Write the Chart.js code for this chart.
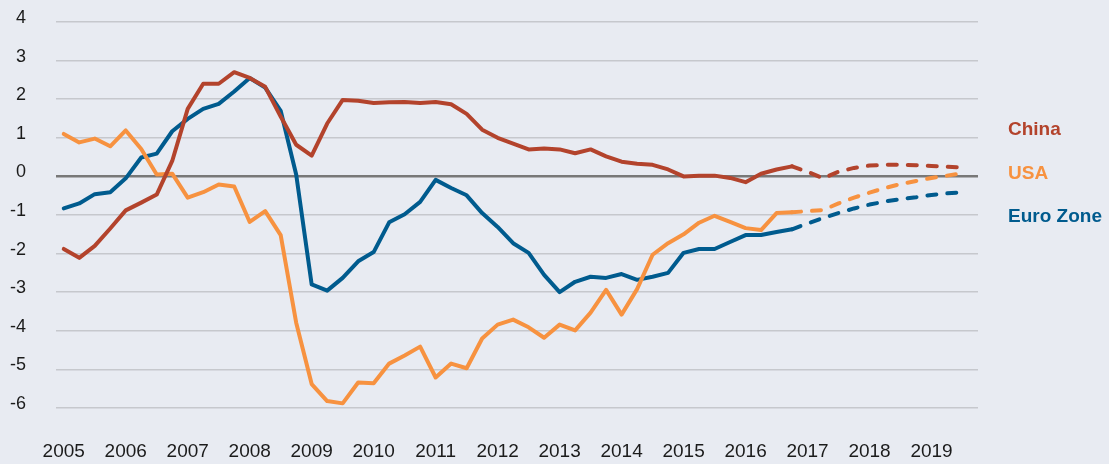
<!DOCTYPE html>
<html>
<head>
<meta charset="utf-8">
<script src="https://cdn.jsdelivr.net/npm/chart.js@4"></script>
<style>
  html, body { margin: 0; padding: 0; background: #e8ebf2; }
  .wrap { width: 1109px; height: 464px; position: relative; }
</style>
</head>
<body>
<div class="wrap"><canvas class="chart"></canvas></div>
<script>
// year tick labels, one per 4 quarters starting 2005 Q1
const years = ['2005','2006','2007','2008','2009','2010','2011','2012','2013','2014','2015','2016','2017','2018','2019'];

// quarterly values, 2005 Q1 .. 2019 Q3 (from index 47 on = forecast)
const china = [-1.88, -2.11, -1.8, -1.35, -0.88, -0.68, -0.47, 0.4, 1.75, 2.4, 2.4, 2.7,
  2.55, 2.32, 1.55, 0.82, 0.54, 1.37, 1.98, 1.96, 1.9, 1.92, 1.93, 1.9,
  1.93, 1.87, 1.62, 1.21, 1.0, 0.85, 0.7, 0.72, 0.7, 0.6, 0.7, 0.52,
  0.38, 0.33, 0.3, 0.18, 0.0, 0.02, 0.02, -0.04, -0.15, 0.07, 0.18, 0.26,
  0.12, -0.05, 0.12, 0.22, 0.28, 0.3, 0.3, 0.29, 0.27, 0.25, 0.23];

const usa = [1.1, 0.88, 0.98, 0.78, 1.19, 0.71, 0.05, 0.07, -0.55, -0.41, -0.21, -0.26,
  -1.18, -0.9, -1.52, -3.79, -5.38, -5.82, -5.88, -5.34, -5.36, -4.85, -4.64, -4.41,
  -5.21, -4.85, -4.97, -4.2, -3.84, -3.71, -3.91, -4.18, -3.84, -3.99, -3.53, -2.94,
  -3.58, -2.92, -2.03, -1.73, -1.5, -1.2, -1.02, -1.18, -1.34, -1.39, -0.95, -0.93,
  -0.9, -0.87, -0.7, -0.55, -0.42, -0.3, -0.2, -0.12, -0.04, 0.02, 0.08];

const euro = [-0.83, -0.7, -0.46, -0.41, -0.05, 0.49, 0.59, 1.17, 1.49, 1.75, 1.88, 2.2,
  2.55, 2.3, 1.7, 0.05, -2.8, -2.96, -2.63, -2.2, -1.96, -1.19, -0.98, -0.66,
  -0.09, -0.3, -0.49, -0.95, -1.31, -1.73, -1.98, -2.55, -3.0, -2.73, -2.6, -2.63,
  -2.53, -2.68, -2.6, -2.5, -1.98, -1.88, -1.88, -1.7, -1.52, -1.52, -1.44, -1.37,
  -1.22, -1.08, -0.95, -0.83, -0.73, -0.65, -0.59, -0.54, -0.48, -0.44, -0.41];

const forecastFrom = 47;

const seriesNames = ['China', 'USA', 'Euro Zone'];
const seriesColors = ['#b3432c', '#f79240', '#005b8e'];

function toPoints(vals) {
  return vals.map((v, i) => ({ x: i, y: v }));
}

function makeSet(name, vals, color) {
  return {
    label: name,
    data: toPoints(vals),
    borderColor: color,
    backgroundColor: color,
    borderWidth: 4,
    pointRadius: 0,
    tension: 0,
    borderJoinStyle: 'round',
    borderCapStyle: 'round',
    segment: {
      borderDash: ctx => ctx.p0DataIndex >= forecastFrom ? [9, 11] : undefined
    }
  };
}

// series names written at the right, like the original
const sideLabels = {
  id: 'sideLabels',
  afterDraw(chart) {
    const c = chart.ctx;
    const ys = [130, 174, 217];
    c.save();
    c.font = 'bold 19px "Liberation Sans", Arial, sans-serif';
    c.textBaseline = 'middle';
    c.textAlign = 'left';
    seriesNames.forEach((n, k) => {
      c.fillStyle = seriesColors[k];
      c.fillText(n, 1008, ys[k]);
    });
    c.restore();
  }
};

Chart.defaults.font.family = '"Liberation Sans", Arial, sans-serif';
Chart.defaults.color = '#1b1b1b';

const config = {
  type: 'line',
  data: {
    datasets: [
      makeSet(seriesNames[0], china, seriesColors[0]),
      makeSet(seriesNames[1], usa, seriesColors[1]),
      makeSet(seriesNames[2], euro, seriesColors[2])
    ]
  },
  options: {
    responsive: true,
    maintainAspectRatio: false,
    animation: false,
    devicePixelRatio: 1,
    layout: { padding: { top: 22, right: 131, left: 0, bottom: 0 } },
    plugins: {
      legend: { display: false },
      tooltip: { enabled: false }
    },
    scales: {
      x: {
        type: 'linear',
        min: -0.5,
        max: 59,
        afterBuildTicks: scale => {
          scale.ticks = years.map((y, k) => ({ value: k * 4 }));
        },
        afterFit: scale => { scale.height = 56; },
        grid: { display: false, drawTicks: false },
        border: { display: false },
        ticks: {
          padding: 32,
          maxRotation: 0,
          autoSkip: false,
          font: { size: 19 },
          callback: v => years[Math.round(v / 4)]
        }
      },
      y: {
        min: -6,
        max: 4,
        afterFit: scale => { scale.width = 56; scale.paddingTop = 0; scale.paddingBottom = 0; },
        border: { display: false },
        grid: {
          drawTicks: false,
          color: ctx => ctx.tick && ctx.tick.value === 0 ? '#787878' : '#c6c8cd',
          lineWidth: ctx => ctx.tick && ctx.tick.value === 0 ? 2.5 : 1.5
        },
        ticks: {
          stepSize: 1,
          padding: 30,
          labelOffset: -4,
          font: { size: 18 }
        }
      }
    }
  },
  plugins: [sideLabels]
};

const myChart = new Chart(document.querySelector('.chart'), config);
</script>
</body>
</html>
